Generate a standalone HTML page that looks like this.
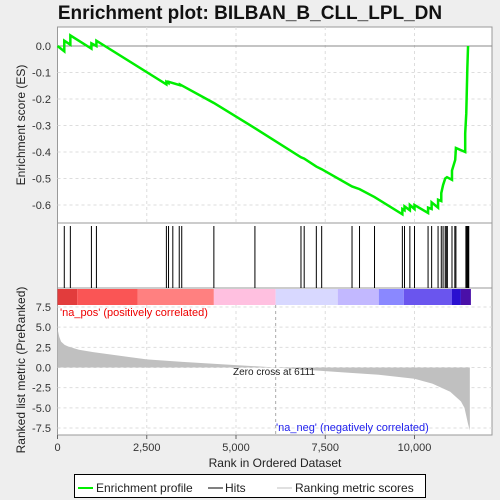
<!DOCTYPE html>
<html><head><meta charset="utf-8"><style>
body{margin:0;background:#eeeeee;font-family:"Liberation Sans",sans-serif;}
svg{display:block}
</style></head><body>
<svg id="c" width="500" height="500" xmlns="http://www.w3.org/2000/svg"></svg>
<script>
const esRanks=[0,190,190,360,360,950,950,1090,1090,3050,3050,3110,3110,3230,3430,3430,4380,5530,6820,6910,7250,7400,8250,8460,8880,9660,9660,9720,9720,9870,9870,10000,10000,10380,10380,10480,10480,10660,10660,10750,10750,10800,10860,10910,11050,11050,11140,11160,11420,11420,11450,11480,11500];
const esValues=[0,-0.02,0.02,0.005,0.04,-0.01,0.01,0.0,0.02,-0.145,-0.135,-0.14,-0.135,-0.14,-0.148,-0.145,-0.215,-0.31,-0.42,-0.425,-0.455,-0.465,-0.53,-0.54,-0.57,-0.635,-0.615,-0.62,-0.605,-0.62,-0.6,-0.615,-0.6,-0.63,-0.61,-0.615,-0.59,-0.61,-0.58,-0.585,-0.555,-0.525,-0.5,-0.495,-0.505,-0.47,-0.43,-0.385,-0.4,-0.33,-0.255,-0.085,0.0];
const hitRanks=[190,360,950,1090,3050,3110,3230,3410,3480,4380,5530,6820,6910,7250,7400,8250,8460,8880,9660,9720,9870,10000,10380,10480,10660,10750,10800,10860,10890,10920,11050,11130,11160,11440,11460,11480,11500,11520];
const metricRanks=[0,50,100,200,300,600,1000,2000,2500,3500,5000,6111,7000,8000,9000,10000,10500,11000,11300,11400,11450,11500,11550];
const metricValues=[4.8,3.8,3.2,2.8,2.6,2.2,1.9,1.3,1.0,0.7,0.3,0,-0.3,-0.6,-0.9,-1.4,-2.0,-3.0,-4.2,-5.0,-6.0,-7.0,-7.8];
const xTicks=[0,2500,5000,7500,10000];
const xTickLabels=["0","2,500","5,000","7,500","10,000"];
const esTicks=[0,-0.1,-0.2,-0.3,-0.4,-0.5,-0.6];
const esTickLabels=["0.0","-0.1","-0.2","-0.3","-0.4","-0.5","-0.6"];
const mTicks=[7.5,5,2.5,0,-2.5,-5,-7.5];
const mTickLabels=["7.5","5.0","2.5","0.0","-2.5","-5.0","-7.5"];
const bandStarts=[0,550,2250,4380,6111,7850,9000,9700,11050,11300];
const bandEnds=[550,2250,4380,6111,7850,9000,9700,11050,11300,11580];
const bandColors=["#e23c3c","#fa5555","#ff8080","#ffc0e0","#d8d8ff","#c2b8ff","#8a88ff","#6a55ee","#2a10d0","#4a10a8"];

const L=57.5,R=492;
const X=r=>L+r*0.0357;
const YE=v=>46-v*265;
const YM=v=>367.5-v*8.07;
const s=document.getElementById('c');
const NS="http://www.w3.org/2000/svg";
function el(t,a,p){const e=document.createElementNS(NS,t);for(const k in a)e.setAttribute(k,a[k]);(p||s).appendChild(e);return e;}
function txt(x,y,t,a){const e=el('text',Object.assign({x:x,y:y},a));e.textContent=t;return e;}

let e;
e=el('rect',{x:0,y:0,width:500,height:500,fill:'#eeeeee'});

e=txt(250,19,"Enrichment plot: BILBAN_B_CLL_LPL_DN",{'text-anchor':'middle','font-size':19,'font-weight':'bold',fill:'#111'});

e=el('rect',{x:L,y:27,width:R-L,height:196,fill:'#fff',stroke:'#999'});

e=el('rect',{x:L,y:223,width:R-L,height:65,fill:'#fff',stroke:'#999'});

e=el('rect',{x:L,y:288,width:R-L,height:147,fill:'#fff',stroke:'#999'});

xTicks.forEach((t,i)=>{if(i>0){
 e=el('line',{x1:X(t),x2:X(t),y1:27,y2:223,stroke:'#ddd','stroke-dasharray':'3,3'});
 
 e=el('line',{x1:X(t),x2:X(t),y1:305,y2:435,stroke:'#ddd','stroke-dasharray':'3,3'});
 }
 e=el('line',{x1:X(t),x2:X(t),y1:435,y2:439,stroke:'#666'});
 
 e=txt(X(t),451,xTickLabels[i],{'text-anchor':'middle','font-size':11,fill:'#333'});
 
});
esTicks.forEach((t,i)=>{
 e=el('line',{x1:L,x2:R,y1:YE(t),y2:YE(t),stroke:t===0?'#888':'#ddd','stroke-dasharray':t===0?'':'3,3'});
 
 e=txt(51,YE(t)+4,esTickLabels[i],{'text-anchor':'end','font-size':11,fill:'#333'});
 
});
mTicks.forEach((t,i)=>{
 e=el('line',{x1:L,x2:R,y1:YM(t),y2:YM(t),stroke:'#ddd','stroke-dasharray':'3,3'});
 
 e=txt(51,YM(t)+4,mTickLabels[i],{'text-anchor':'end','font-size':11,fill:'#333'});
 
});
bandStarts.forEach((b,i)=>{
 e=el('rect',{x:X(b),y:289,width:X(bandEnds[i])-X(b),height:16,fill:bandColors[i]});
 
});
hitRanks.forEach(r=>{
 e=el('line',{x1:X(r),x2:X(r),y1:226,y2:288,stroke:'#000','stroke-width':1});
 
});
let d='M'+X(metricRanks[0])+','+YM(0);
metricRanks.forEach((r,i)=>{d+=' L'+X(r)+','+YM(metricValues[i]);});
d+=' L'+X(metricRanks[metricRanks.length-1])+','+YM(0)+'Z';
e=el('path',{d:d,fill:'#c0c0c0'});

e=el('line',{x1:X(6111),x2:X(6111),y1:305,y2:435,stroke:'#aaa','stroke-dasharray':'3,3'});

e=txt(233,375,"Zero cross at 6111",{'font-size':10,fill:'#222'});

e=txt(60,316,"'na_pos' (positively correlated)",{'font-size':11,fill:'#e00'});

e=txt(276,431,"'na_neg' (negatively correlated)",{'font-size':11,fill:'#22e'});

e=el('polyline',{points:esRanks.map((r,i)=>X(r)+','+YE(esValues[i])).join(' '),fill:'none',stroke:'#00ee00','stroke-width':2.5});

e=txt(25,125,"Enrichment score (ES)",{'font-size':12,fill:'#222','text-anchor':'middle',transform:'rotate(-90 25 125)'});

e=txt(25,370,"Ranked list metric (PreRanked)",{'font-size':12,fill:'#222','text-anchor':'middle',transform:'rotate(-90 25 370)'});

e=txt(275,467,"Rank in Ordered Dataset",{'font-size':12,fill:'#222','text-anchor':'middle'});

const g=el('g',{});

el('rect',{x:74.5,y:474.5,width:351,height:23,fill:'#fff',stroke:'#000'},g);
e=el('line',{x1:78,x2:93,y1:488,y2:488,stroke:'#00ee00','stroke-width':2},g);

e=txt(96,492,"Enrichment profile",{'font-size':12,fill:'#222'});g.appendChild(e);

e=el('line',{x1:208,x2:223,y1:488,y2:488,stroke:'#000','stroke-width':1},g);

e=txt(225,492,"Hits",{'font-size':12,fill:'#222'});g.appendChild(e);

e=el('line',{x1:277,x2:292,y1:488,y2:488,stroke:'#c0c0c0','stroke-width':1},g);

e=txt(295,492,"Ranking metric scores",{'font-size':12,fill:'#222'});g.appendChild(e);

</script>
</body></html>
